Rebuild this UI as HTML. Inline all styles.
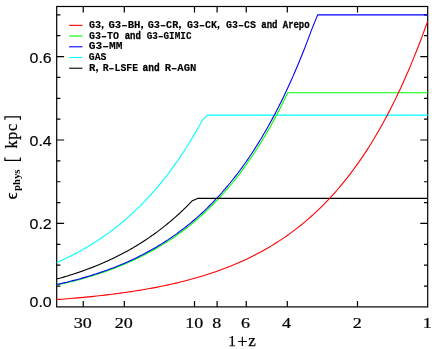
<!DOCTYPE html>
<html><head><meta charset="utf-8"><title>chart</title>
<style>
html,body{margin:0;padding:0;background:#fff;}
body{width:436px;height:349px;position:relative;overflow:hidden;font-family:"Liberation Sans",sans-serif;}
</style></head><body>
<svg width="436" height="349" viewBox="0 0 436 349" style="position:absolute;left:0;top:0;will-change:transform;opacity:0.999">
<rect x="0" y="0" width="436" height="349" fill="#fff"/>
<g stroke="#000" stroke-width="1.2" fill="none" stroke-linecap="butt">
<rect x="56.70" y="6.50" width="371.00" height="300.40"/>
<path d="M83.24,306.90 v-6.00 M83.24,6.50 v6.00"/>
<path d="M124.30,306.90 v-6.00 M124.30,6.50 v6.00"/>
<path d="M194.50,306.90 v-6.00 M194.50,6.50 v6.00"/>
<path d="M217.10,306.90 v-6.00 M217.10,6.50 v6.00"/>
<path d="M246.24,306.90 v-6.00 M246.24,6.50 v6.00"/>
<path d="M287.30,306.90 v-6.00 M287.30,6.50 v6.00"/>
<path d="M357.50,306.90 v-6.00 M357.50,6.50 v6.00"/>
<path d="M56.70,286.04 h3.70 M427.70,286.04 h-3.70"/>
<path d="M56.70,265.18 h3.70 M427.70,265.18 h-3.70"/>
<path d="M56.70,244.32 h3.70 M427.70,244.32 h-3.70"/>
<path d="M56.70,223.46 h7.40 M427.70,223.46 h-7.40"/>
<path d="M56.70,202.59 h3.70 M427.70,202.59 h-3.70"/>
<path d="M56.70,181.73 h3.70 M427.70,181.73 h-3.70"/>
<path d="M56.70,160.87 h3.70 M427.70,160.87 h-3.70"/>
<path d="M56.70,140.01 h7.40 M427.70,140.01 h-7.40"/>
<path d="M56.70,119.15 h3.70 M427.70,119.15 h-3.70"/>
<path d="M56.70,98.29 h3.70 M427.70,98.29 h-3.70"/>
<path d="M56.70,77.43 h3.70 M427.70,77.43 h-3.70"/>
<path d="M56.70,56.57 h7.40 M427.70,56.57 h-7.40"/>
<path d="M56.70,35.71 h3.70 M427.70,35.71 h-3.70"/>
<path d="M56.70,14.84 h3.70 M427.70,14.84 h-3.70"/>
</g>
<g fill="none" stroke-width="1.1" stroke-linejoin="round">
<path d="M56.70,262.59 L57.74,262.14 L58.78,261.67 L59.82,261.21 L60.86,260.74 L61.90,260.26 L62.94,259.78 L63.98,259.29 L65.03,258.80 L66.07,258.30 L67.11,257.80 L68.15,257.29 L69.19,256.78 L70.23,256.26 L71.27,255.74 L72.31,255.21 L73.35,254.68 L74.39,254.14 L75.43,253.59 L76.47,253.04 L77.51,252.49 L78.56,251.92 L79.60,251.36 L80.64,250.78 L81.68,250.20 L82.72,249.62 L83.76,249.03 L84.80,248.43 L85.84,247.82 L86.88,247.21 L87.92,246.60 L88.96,245.97 L90.00,245.34 L91.04,244.71 L92.08,244.07 L93.12,243.42 L94.17,242.76 L95.21,242.10 L96.25,241.43 L97.29,240.75 L98.33,240.07 L99.37,239.38 L100.41,238.68 L101.45,237.98 L102.49,237.27 L103.53,236.55 L104.57,235.82 L105.61,235.09 L106.65,234.34 L107.69,233.59 L108.74,232.84 L109.78,232.07 L110.82,231.30 L111.86,230.52 L112.90,229.73 L113.94,228.93 L114.98,228.13 L116.02,227.31 L117.06,226.49 L118.10,225.66 L119.14,224.82 L120.18,223.97 L121.22,223.12 L122.26,222.25 L123.31,221.38 L124.35,220.50 L125.39,219.60 L126.43,218.70 L127.47,217.79 L128.51,216.87 L129.55,215.94 L130.59,215.00 L131.63,214.05 L132.67,213.09 L133.71,212.12 L134.75,211.14 L135.79,210.16 L136.83,209.16 L137.88,208.15 L138.92,207.13 L139.96,206.10 L141.00,205.05 L142.04,204.00 L143.08,202.94 L144.12,201.87 L145.16,200.78 L146.20,199.69 L147.24,198.58 L148.28,197.46 L149.32,196.33 L150.36,195.19 L151.41,194.03 L152.45,192.87 L153.49,191.69 L154.53,190.50 L155.57,189.30 L156.61,188.08 L157.65,186.85 L158.69,185.61 L159.73,184.36 L160.77,183.10 L161.81,181.82 L162.85,180.53 L163.89,179.22 L164.93,177.90 L165.97,176.57 L167.02,175.22 L168.06,173.86 L169.10,172.49 L170.14,171.10 L171.18,169.70 L172.22,168.28 L173.26,166.85 L174.30,165.40 L175.34,163.94 L176.38,162.46 L177.42,160.97 L178.46,159.46 L179.50,157.94 L180.55,156.40 L181.59,154.85 L182.63,153.28 L183.67,151.69 L184.71,150.09 L185.75,148.47 L186.79,146.83 L187.83,145.18 L188.87,143.51 L189.91,141.82 L190.95,140.12 L191.99,138.39 L193.03,136.65 L194.07,134.89 L195.12,133.12 L196.16,131.32 L197.20,129.51 L198.24,127.68 L199.28,125.83 L200.32,123.96 L201.36,122.07 L202.40,120.16 L207.50,115.10 L427.70,115.10" stroke="#00ffff"/>
<path d="M56.70,285.01 L58.35,284.66 L60.00,284.29 L61.65,283.92 L63.29,283.54 L64.94,283.16 L66.59,282.77 L68.24,282.37 L69.89,281.97 L71.54,281.56 L73.19,281.15 L74.83,280.72 L76.48,280.29 L78.13,279.86 L79.78,279.41 L81.43,278.96 L83.08,278.50 L84.73,278.04 L86.37,277.56 L88.02,277.08 L89.67,276.59 L91.32,276.10 L92.97,275.59 L94.62,275.08 L96.27,274.55 L97.91,274.02 L99.56,273.48 L101.21,272.94 L102.86,272.38 L104.51,271.81 L106.16,271.24 L107.81,270.65 L109.45,270.06 L111.10,269.45 L112.75,268.84 L114.40,268.21 L116.05,267.58 L117.70,266.93 L119.35,266.28 L120.99,265.61 L122.64,264.93 L124.29,264.24 L125.94,263.54 L127.59,262.83 L129.24,262.11 L130.89,261.37 L132.53,260.63 L134.18,259.87 L135.83,259.09 L137.48,258.31 L139.13,257.51 L140.78,256.70 L142.43,255.88 L144.07,255.04 L145.72,254.19 L147.37,253.32 L149.02,252.45 L150.67,251.55 L152.32,250.64 L153.97,249.72 L155.61,248.78 L157.26,247.83 L158.91,246.86 L160.56,245.87 L162.21,244.87 L163.86,243.85 L165.51,242.82 L167.15,241.77 L168.80,240.70 L170.45,239.61 L172.10,238.51 L173.75,237.39 L175.40,236.24 L177.05,235.09 L178.69,233.91 L180.34,232.71 L181.99,231.49 L183.64,230.25 L185.29,229.00 L186.94,227.72 L188.59,226.42 L190.23,225.10 L191.88,223.75 L193.53,222.39 L195.18,221.00 L196.83,219.59 L198.48,218.16 L200.13,216.70 L201.77,215.22 L203.42,213.72 L205.07,212.19 L206.72,210.64 L208.37,209.06 L210.02,207.45 L211.67,205.82 L213.31,204.16 L214.96,202.47 L216.61,200.76 L218.26,199.02 L219.91,197.25 L221.56,195.45 L223.21,193.62 L224.85,191.76 L226.50,189.87 L228.15,187.95 L229.80,186.00 L231.45,184.01 L233.10,182.00 L234.75,179.95 L236.39,177.86 L238.04,175.75 L239.69,173.59 L241.34,171.41 L242.99,169.18 L244.64,166.92 L246.29,164.63 L247.93,162.29 L249.58,159.92 L251.23,157.51 L252.88,155.05 L254.53,152.56 L256.18,150.03 L257.83,147.45 L259.47,144.84 L261.12,142.18 L262.77,139.48 L264.42,136.73 L266.07,133.93 L267.72,131.10 L269.37,128.21 L271.01,125.28 L272.66,122.30 L274.31,119.27 L275.96,116.19 L277.61,113.06 L279.26,109.88 L280.91,106.65 L282.55,103.36 L284.20,100.02 L285.85,96.62 L287.50,93.17 L287.50,92.78 L427.70,92.78" stroke="#00ff00"/>
<path d="M56.70,284.53 L58.52,284.13 L60.33,283.72 L62.15,283.30 L63.97,282.87 L65.78,282.43 L67.60,281.99 L69.42,281.54 L71.23,281.08 L73.05,280.62 L74.86,280.14 L76.68,279.66 L78.50,279.16 L80.31,278.66 L82.13,278.15 L83.95,277.63 L85.76,277.10 L87.58,276.56 L89.40,276.01 L91.21,275.45 L93.03,274.88 L94.84,274.30 L96.66,273.71 L98.48,273.11 L100.29,272.50 L102.11,271.88 L103.93,271.24 L105.74,270.60 L107.56,269.94 L109.38,269.27 L111.19,268.59 L113.01,267.90 L114.83,267.19 L116.64,266.48 L118.46,265.74 L120.28,265.00 L122.09,264.24 L123.91,263.47 L125.72,262.68 L127.54,261.88 L129.36,261.07 L131.17,260.24 L132.99,259.39 L134.81,258.53 L136.62,257.66 L138.44,256.77 L140.26,255.86 L142.07,254.94 L143.89,254.00 L145.71,253.04 L147.52,252.06 L149.34,251.07 L151.15,250.06 L152.97,249.03 L154.79,247.99 L156.60,246.92 L158.42,245.83 L160.24,244.73 L162.05,243.60 L163.87,242.46 L165.69,241.29 L167.50,240.11 L169.32,238.90 L171.14,237.67 L172.95,236.41 L174.77,235.14 L176.58,233.84 L178.40,232.52 L180.22,231.17 L182.03,229.80 L183.85,228.40 L185.67,226.98 L187.48,225.54 L189.30,224.07 L191.12,222.57 L192.93,221.04 L194.75,219.49 L196.56,217.90 L198.38,216.29 L200.20,214.65 L202.01,212.98 L203.83,211.29 L205.65,209.55 L207.46,207.79 L209.28,206.00 L211.10,204.17 L212.91,202.31 L214.73,200.42 L216.55,198.49 L218.36,196.53 L220.18,194.54 L222.00,192.50 L223.81,190.43 L225.63,188.32 L227.44,186.18 L229.26,183.99 L231.08,181.77 L232.89,179.51 L234.71,177.20 L236.53,174.85 L238.34,172.46 L240.16,170.03 L241.98,167.55 L243.79,165.03 L245.61,162.46 L247.43,159.85 L249.24,157.19 L251.06,154.48 L252.87,151.72 L254.69,148.91 L256.51,146.05 L258.32,143.14 L260.14,140.18 L261.96,137.16 L263.77,134.09 L265.59,130.96 L267.41,127.78 L269.22,124.54 L271.04,121.24 L272.86,117.88 L274.67,114.46 L276.49,110.97 L278.30,107.43 L280.12,103.82 L281.94,100.14 L283.75,96.40 L285.57,92.59 L287.39,88.71 L289.20,84.77 L291.02,80.75 L292.84,76.65 L294.65,72.49 L296.47,68.24 L298.29,63.93 L300.10,59.53 L301.92,55.05 L303.73,50.49 L305.55,45.85 L307.37,41.13 L309.18,36.32 L311.00,31.42 L317.60,14.84 L427.70,14.84" stroke="#0000ff"/>
<path d="M56.70,279.08 L57.67,278.81 L58.64,278.54 L59.61,278.26 L60.58,277.99 L61.55,277.71 L62.52,277.43 L63.48,277.15 L64.45,276.86 L65.42,276.57 L66.39,276.28 L67.36,275.99 L68.33,275.69 L69.30,275.39 L70.27,275.09 L71.24,274.78 L72.21,274.47 L73.18,274.16 L74.15,273.84 L75.12,273.53 L76.09,273.21 L77.06,272.88 L78.02,272.55 L78.99,272.22 L79.96,271.89 L80.93,271.55 L81.90,271.21 L82.87,270.87 L83.84,270.52 L84.81,270.17 L85.78,269.82 L86.75,269.46 L87.72,269.10 L88.69,268.74 L89.66,268.37 L90.62,268.00 L91.59,267.63 L92.56,267.25 L93.53,266.87 L94.50,266.49 L95.47,266.10 L96.44,265.70 L97.41,265.31 L98.38,264.91 L99.35,264.50 L100.32,264.10 L101.29,263.69 L102.26,263.27 L103.23,262.85 L104.19,262.43 L105.16,262.00 L106.13,261.57 L107.10,261.13 L108.07,260.69 L109.04,260.25 L110.01,259.80 L110.98,259.35 L111.95,258.89 L112.92,258.43 L113.89,257.96 L114.86,257.49 L115.83,257.01 L116.80,256.53 L117.76,256.05 L118.73,255.56 L119.70,255.07 L120.67,254.57 L121.64,254.07 L122.61,253.56 L123.58,253.04 L124.55,252.53 L125.52,252.00 L126.49,251.48 L127.46,250.94 L128.43,250.41 L129.40,249.86 L130.37,249.31 L131.33,248.76 L132.30,248.20 L133.27,247.64 L134.24,247.07 L135.21,246.49 L136.18,245.91 L137.15,245.32 L138.12,244.73 L139.09,244.13 L140.06,243.53 L141.03,242.92 L142.00,242.30 L142.97,241.68 L143.94,241.06 L144.91,240.42 L145.87,239.78 L146.84,239.14 L147.81,238.49 L148.78,237.83 L149.75,237.16 L150.72,236.49 L151.69,235.82 L152.66,235.13 L153.63,234.44 L154.60,233.75 L155.57,233.04 L156.54,232.33 L157.51,231.62 L158.47,230.89 L159.44,230.16 L160.41,229.42 L161.38,228.68 L162.35,227.93 L163.32,227.17 L164.29,226.40 L165.26,225.63 L166.23,224.84 L167.20,224.05 L168.17,223.26 L169.14,222.45 L170.11,221.64 L171.08,220.82 L172.05,219.99 L173.01,219.16 L173.98,218.31 L174.95,217.46 L175.92,216.60 L176.89,215.73 L177.86,214.86 L178.83,213.97 L179.80,213.08 L180.77,212.18 L181.74,211.27 L182.71,210.35 L183.68,209.42 L184.65,208.48 L185.62,207.53 L186.58,206.58 L187.55,205.61 L188.52,204.64 L189.49,203.66 L190.46,202.66 L191.43,201.66 L192.40,200.65 L197.50,198.42 L427.70,198.42" stroke="#000000"/>
<path d="M56.70,299.57 L59.35,299.37 L62.00,299.18 L64.65,298.97 L67.30,298.76 L69.95,298.54 L72.60,298.32 L75.25,298.10 L77.90,297.86 L80.55,297.62 L83.20,297.38 L85.85,297.12 L88.50,296.87 L91.15,296.60 L93.80,296.33 L96.45,296.05 L99.10,295.76 L101.75,295.46 L104.40,295.16 L107.05,294.85 L109.70,294.53 L112.35,294.20 L115.00,293.86 L117.65,293.52 L120.30,293.16 L122.95,292.80 L125.60,292.43 L128.25,292.04 L130.90,291.65 L133.55,291.24 L136.20,290.83 L138.85,290.40 L141.50,289.96 L144.15,289.52 L146.80,289.06 L149.45,288.58 L152.10,288.10 L154.75,287.60 L157.40,287.09 L160.05,286.56 L162.70,286.02 L165.35,285.47 L168.00,284.90 L170.65,284.32 L173.30,283.72 L175.95,283.10 L178.60,282.47 L181.25,281.83 L183.90,281.16 L186.55,280.48 L189.20,279.78 L191.85,279.06 L194.50,278.32 L197.15,277.56 L199.80,276.78 L202.45,275.99 L205.10,275.17 L207.75,274.33 L210.40,273.46 L213.05,272.58 L215.70,271.67 L218.35,270.73 L221.00,269.77 L223.65,268.79 L226.30,267.78 L228.95,266.74 L231.60,265.68 L234.25,264.58 L236.90,263.46 L239.55,262.31 L242.20,261.13 L244.85,259.91 L247.50,258.67 L250.15,257.39 L252.80,256.08 L255.45,254.73 L258.10,253.35 L260.75,251.93 L263.40,250.47 L266.05,248.97 L268.70,247.44 L271.35,245.86 L274.00,244.24 L276.65,242.58 L279.30,240.88 L281.95,239.13 L284.60,237.33 L287.25,235.49 L289.90,233.59 L292.55,231.65 L295.20,229.65 L297.85,227.61 L300.50,225.50 L303.15,223.35 L305.80,221.13 L308.45,218.86 L311.10,216.52 L313.75,214.13 L316.40,211.67 L319.05,209.14 L321.70,206.55 L324.35,203.89 L327.00,201.16 L329.65,198.36 L332.30,195.48 L334.95,192.53 L337.60,189.49 L340.25,186.38 L342.90,183.19 L345.55,179.91 L348.20,176.54 L350.85,173.08 L353.50,169.53 L356.15,165.89 L358.80,162.16 L361.45,158.32 L364.10,154.38 L366.75,150.34 L369.40,146.18 L372.05,141.92 L374.70,137.55 L377.35,133.06 L380.00,128.45 L382.65,123.72 L385.30,118.86 L387.95,113.88 L390.60,108.76 L393.25,103.51 L395.90,98.12 L398.55,92.58 L401.20,86.90 L403.85,81.07 L406.50,75.08 L409.15,68.94 L411.80,62.63 L414.45,56.15 L417.10,49.50 L419.75,42.68 L422.40,35.67 L425.05,28.48 L427.70,21.10 L427.70,21.10" stroke="#ff0000"/>
</g>
<g font-family="Liberation Mono, monospace" font-weight="bold" font-size="10.10" fill="#000" stroke="#000" stroke-width="0.12">
<path d="M69.1,25.35 H82.5" stroke="#ff0000" stroke-width="1.1" fill="none"/>
<text x="88.90" y="27.85" textLength="12.10" lengthAdjust="spacingAndGlyphs">G3</text>
<path d="M101.50,27.10 a1.05,1.05 0 1,1 2.1,0 q0,2.0 -1.8,3.0 l-0.35,-0.45 q0.95,-0.8 0.95,-1.55 a1.05,1.05 0 0,1 -0.9,-1.0z" stroke="none"/>
<text x="108.45" y="27.85" textLength="32.05" lengthAdjust="spacingAndGlyphs">G3–BH</text>
<path d="M141.00,27.10 a1.05,1.05 0 1,1 2.1,0 q0,2.0 -1.8,3.0 l-0.35,-0.45 q0.95,-0.8 0.95,-1.55 a1.05,1.05 0 0,1 -0.9,-1.0z" stroke="none"/>
<text x="147.70" y="27.85" textLength="30.70" lengthAdjust="spacingAndGlyphs">G3–CR</text>
<path d="M178.90,27.10 a1.05,1.05 0 1,1 2.1,0 q0,2.0 -1.8,3.0 l-0.35,-0.45 q0.95,-0.8 0.95,-1.55 a1.05,1.05 0 0,1 -0.9,-1.0z" stroke="none"/>
<text x="186.90" y="27.85" textLength="30.00" lengthAdjust="spacingAndGlyphs">G3–CK</text>
<path d="M217.40,27.10 a1.05,1.05 0 1,1 2.1,0 q0,2.0 -1.8,3.0 l-0.35,-0.45 q0.95,-0.8 0.95,-1.55 a1.05,1.05 0 0,1 -0.9,-1.0z" stroke="none"/>
<text x="225.90" y="27.85" textLength="30.00" lengthAdjust="spacingAndGlyphs">G3–CS</text>
<text x="261.30" y="27.85" textLength="16.20" lengthAdjust="spacingAndGlyphs" stroke-width="0.3">and</text>
<text x="282.80" y="27.85" textLength="26.80" lengthAdjust="spacingAndGlyphs" stroke-width="0.3">Arepo</text>
<path d="M69.1,36.07 H82.5" stroke="#00ff00" stroke-width="1.1" fill="none"/>
<text x="88.90" y="38.57" textLength="30.00" lengthAdjust="spacingAndGlyphs">G3–TO</text>
<text x="124.70" y="38.57" textLength="16.20" lengthAdjust="spacingAndGlyphs" stroke-width="0.3">and</text>
<text x="146.70" y="38.57" textLength="44.80" lengthAdjust="spacingAndGlyphs">G3–GIMIC</text>
<path d="M69.1,46.79 H82.5" stroke="#0000ff" stroke-width="1.1" fill="none"/>
<text x="88.80" y="49.29" textLength="33.60" lengthAdjust="spacingAndGlyphs">G3–MM</text>
<path d="M69.1,57.51 H82.5" stroke="#00ffff" stroke-width="1.1" fill="none"/>
<text x="88.80" y="60.01" textLength="17.60" lengthAdjust="spacingAndGlyphs">GAS</text>
<path d="M69.1,68.23 H82.5" stroke="#000000" stroke-width="1.1" fill="none"/>
<text x="89.10" y="70.73" textLength="6.40" lengthAdjust="spacingAndGlyphs">R</text>
<path d="M96.00,69.98 a1.05,1.05 0 1,1 2.1,0 q0,2.0 -1.8,3.0 l-0.35,-0.45 q0.95,-0.8 0.95,-1.55 a1.05,1.05 0 0,1 -0.9,-1.0z" stroke="none"/>
<text x="102.70" y="70.73" textLength="35.40" lengthAdjust="spacingAndGlyphs">R–LSFE</text>
<text x="142.60" y="70.73" textLength="17.10" lengthAdjust="spacingAndGlyphs" stroke-width="0.3">and</text>
<text x="164.70" y="70.73" textLength="31.70" lengthAdjust="spacingAndGlyphs">R–AGN</text>
</g>
<g font-family="Liberation Serif, serif" font-size="15.4" fill="#000" stroke="#000" stroke-width="0.22">
<text x="73.70" y="328.0" textLength="18.0" lengthAdjust="spacingAndGlyphs">30</text>
<text x="114.85" y="328.0" textLength="18.0" lengthAdjust="spacingAndGlyphs">20</text>
<text x="185.30" y="328.0" textLength="18.0" lengthAdjust="spacingAndGlyphs">10</text>
<text x="212.25" y="328.0" textLength="9.0" lengthAdjust="spacingAndGlyphs">8</text>
<text x="241.10" y="328.0" textLength="9.0" lengthAdjust="spacingAndGlyphs">6</text>
<text x="282.05" y="328.0" textLength="9.0" lengthAdjust="spacingAndGlyphs">4</text>
<text x="352.70" y="328.0" textLength="9.0" lengthAdjust="spacingAndGlyphs">2</text>
<text x="422.80" y="328.0" textLength="9.0" lengthAdjust="spacingAndGlyphs">1</text>
</g>
<g font-family="Liberation Serif, serif" fill="#000" stroke="#000" stroke-width="0.25">
<text x="228.2" y="346.3" font-size="15.3">1</text>
<text x="237.2" y="347.6" font-size="18.3">+</text>
<text x="248.2" y="346.3" font-size="17">z</text>
</g>
<g font-family="Liberation Sans, sans-serif" font-size="15.3" fill="#000" stroke="#000" stroke-width="0.15" text-anchor="end">
<text x="51.7" y="307.30" textLength="22.2" lengthAdjust="spacingAndGlyphs">0.0</text>
<text x="51.7" y="229.46" textLength="22.2" lengthAdjust="spacingAndGlyphs">0.2</text>
<text x="51.7" y="146.01" textLength="22.2" lengthAdjust="spacingAndGlyphs">0.4</text>
<text x="51.7" y="62.57" textLength="22.2" lengthAdjust="spacingAndGlyphs">0.6</text>
</g>
<g transform="translate(16.9,0) rotate(-90)" fill="#000">
<text x="-199.2" y="0" font-family="Liberation Serif, serif" font-size="16.5" stroke="#000" stroke-width="0.35">ϵ</text>
<text x="-191.0" y="3.3" font-family="Liberation Serif, serif" font-size="10.6" font-weight="bold" textLength="21.4" lengthAdjust="spacingAndGlyphs">phys</text>
<text x="-148.6" y="0" font-family="Liberation Serif, serif" font-size="16" letter-spacing="0.8" stroke="#000" stroke-width="0.3">kpc</text>
</g>
<g stroke="#000" stroke-width="1.2" fill="none">
<path d="M4.9,157.6 V160.4 H20.4 V157.6"/>
<path d="M4.9,119.7 V116.8 H20.4 V119.7"/>
</g>
</svg>
</body></html>
